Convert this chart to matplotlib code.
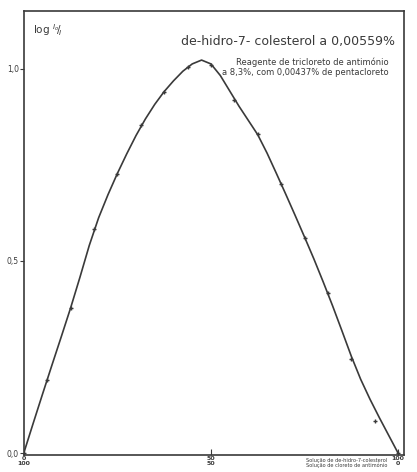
import matplotlib
matplotlib.use("Agg")
import matplotlib.pyplot as plt

# measured points (percent of de-hidro-7-colesterol solution vs log I0/I)
pt_x = [0, 6.25, 12.5, 18.75, 25, 31.25, 37.5, 43.75, 50, 56.25, 62.5,
        68.75, 75, 81.25, 87.5, 93.75, 100]
pt_y = [0.0, 0.19, 0.377, 0.584, 0.727, 0.852, 0.94, 1.003, 1.01, 0.917,
        0.83, 0.70, 0.56, 0.415, 0.244, 0.083, 0.0]

# hand drawn curve
curve_x = [0, 2.5, 5, 7.5, 10, 12.5, 15, 17.5, 20, 22.5, 25, 27.5, 30, 32.5,
           35, 37.5, 40, 42.5, 45, 47.5, 50, 52.5, 55, 57.5, 60, 62.5, 65,
           67.5, 70, 72.5, 75, 77.5, 80, 82.5, 85, 87.5, 90, 92.5, 95, 97.5, 100]
curve_y = [0.0, 0.077, 0.153, 0.228, 0.302, 0.377, 0.457, 0.54, 0.612, 0.672,
           0.727, 0.778, 0.826, 0.869, 0.907, 0.94, 0.968, 0.993, 1.012, 1.022,
           1.012, 0.982, 0.942, 0.902, 0.865, 0.828, 0.78, 0.727, 0.673, 0.618,
           0.562, 0.505, 0.445, 0.383, 0.318, 0.252, 0.192, 0.14, 0.092, 0.046,
           0.0]

xticks = [0, 50, 100]
xtick_labels = ["0\n100", "50\n50", "100\n0"]
yticks = [0.0, 0.5, 1.0]
ytick_labels = ["0,0", "0,5", "1,0"]

ink = "#3a3a3a"

fig = plt.figure(figsize=(4.17, 4.72), dpi=100)
ax = fig.add_axes([0.057, 0.036, 0.912, 0.941])

ax.plot(curve_x, curve_y, color=ink, lw=1.2, solid_joinstyle="round")
ax.plot(pt_x, pt_y, linestyle="none", marker="+", ms=3.5, mew=1.0, color=ink)

ax.set_xlim(0, 101.6)
ax.set_ylim(-0.005, 1.15)

for s in ax.spines.values():
    s.set_color(ink)
    s.set_linewidth(1.2)

ax.set_xticks(xticks)
ax.set_xticklabels(xtick_labels, fontsize=4.5, linespacing=0.8, fontweight="bold")
ax.set_yticks(yticks)
ax.set_yticklabels(ytick_labels, fontsize=5.5)
ax.tick_params(axis="x", direction="in", length=4, width=0.8, colors=ink, pad=1)
ax.tick_params(axis="y", direction="out", length=3, width=0.8, colors=ink, pad=0.5)

ax.text(0.025, 0.975, r"log $^{I_o}\!/\!_{I}$", transform=ax.transAxes,
        fontsize=7.5, ha="left", va="top", color=ink)

ax.text(0.975, 0.945, "de-hidro-7- colesterol a 0,00559%", transform=ax.transAxes,
        fontsize=9, ha="right", va="top", color=ink)
ax.text(0.96, 0.895, "Reagente de tricloreto de antimónio\n"
        "a 8,3%, com 0,00437% de pentacloreto",
        transform=ax.transAxes, fontsize=6, ha="right", va="top",
        linespacing=1.1, color=ink)

ax.text(0.955, -0.006, "Solução de de-hidro-7-colesterol\n"
        "Solução de cloreto de antimónio",
        transform=ax.transAxes, fontsize=3.6, ha="right", va="top",
        linespacing=0.9, color=ink)

fig.savefig("out.png", dpi=100)
